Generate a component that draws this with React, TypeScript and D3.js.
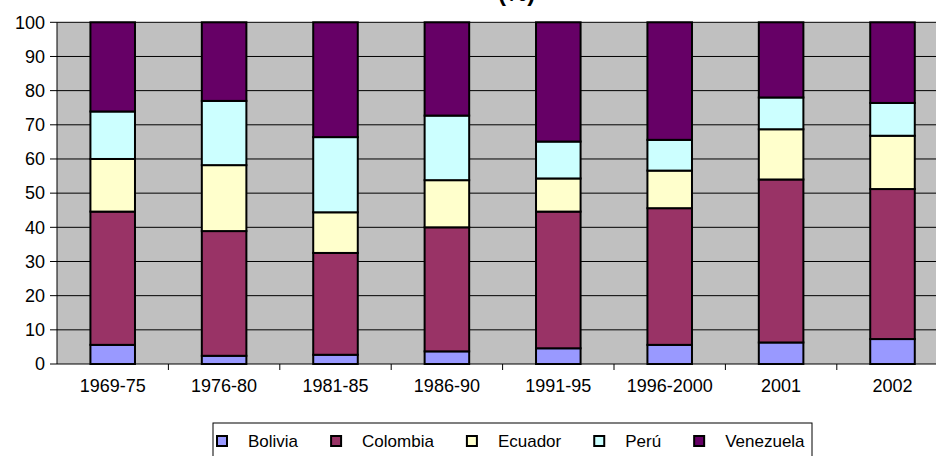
import React, { useEffect, useRef } from "react";
import * as d3 from "d3";

const categories = ["1969-75", "1976-80", "1981-85", "1986-90", "1991-95", "1996-2000", "2001", "2002"];
const seriesNames = ["Bolivia", "Colombia", "Ecuador", "Perú", "Venezuela"];
const bolivia = [5.6, 2.4, 2.7, 3.7, 4.6, 5.6, 6.3, 7.3];
const colombia = [39.0, 36.5, 29.8, 36.3, 40.0, 40.0, 47.7, 43.9];
const ecuador = [15.4, 19.3, 11.9, 13.8, 9.7, 11.0, 14.7, 15.6];
const peru = [13.9, 18.8, 22.0, 18.9, 10.8, 9.0, 9.3, 9.6];
const venezuela = [26.1, 23.0, 33.6, 27.3, 34.9, 34.4, 22.0, 23.6];
const yTicks = [0, 10, 20, 30, 40, 50, 60, 70, 80, 90, 100];
const colors = ["#9999FF", "#993366", "#FFFFCC", "#CCFFFF", "#660066"];
const titleText = "(%)";

const W = 936;
const H = 456;
const FONT = "'Liberation Sans', Arial, sans-serif";

export default function App() {
  const ref = useRef<SVGSVGElement>(null);

  useEffect(() => {
    const svg = d3.select(ref.current);
    svg.selectAll("*").remove();

    const left = 57;
    const step = 111.4;
    const right = left + step * categories.length;
    const top = 22.3;
    const bottom = 364;

    const x = d3.scaleBand<string>().domain(categories).range([left, right]).paddingInner(0.6).paddingOuter(0.3);
    const y = d3.scaleLinear().domain([0, 100]).range([bottom, top]);

    const table = categories.map((c, i) => ({
      cat: c,
      Bolivia: bolivia[i],
      Colombia: colombia[i],
      Ecuador: ecuador[i],
      "Perú": peru[i],
      Venezuela: venezuela[i],
    }));
    const stacked = d3.stack<any>().keys(seriesNames)(table);

    // plot background
    svg.append("rect").attr("x", left).attr("y", top).attr("width", right - left).attr("height", bottom - top).attr("fill", "#C0C0C0");

    // gridlines
    svg.append("g").selectAll("line").data(yTicks.filter((t) => t > 0)).join("line")
      .attr("x1", left).attr("x2", right).attr("y1", (d) => y(d)).attr("y2", (d) => y(d))
      .attr("stroke", "#000").attr("stroke-width", 1);

    // bars
    const g = svg.append("g");
    stacked.forEach((layer, si) => {
      g.append("g").selectAll("rect").data(layer).join("rect")
        .attr("x", (d: any) => x(d.data.cat)!)
        .attr("width", x.bandwidth())
        .attr("y", (d: any) => y(d[1]))
        .attr("height", (d: any) => y(d[0]) - y(d[1]))
        .attr("fill", colors[si])
        .attr("stroke", "#000")
        .attr("stroke-width", 2);
    });

    // axes lines
    svg.append("line").attr("x1", left).attr("x2", left).attr("y1", top).attr("y2", bottom).attr("stroke", "#000").attr("stroke-width", 1);
    svg.append("line").attr("x1", left).attr("x2", right).attr("y1", bottom).attr("y2", bottom).attr("stroke", "#000").attr("stroke-width", 1);

    // y ticks + labels
    const yt = svg.append("g");
    yt.selectAll("line").data(yTicks).join("line")
      .attr("x1", left - 7).attr("x2", left).attr("y1", (d) => y(d)).attr("y2", (d) => y(d))
      .attr("stroke", "#000");
    yt.selectAll("text").data(yTicks).join("text")
      .attr("x", left - 12).attr("y", (d) => y(d)).attr("dy", "0.35em")
      .attr("text-anchor", "end").attr("font-family", FONT).attr("font-size", 18).attr("fill", "#000")
      .text((d) => String(d));

    // x ticks + labels
    const bounds = categories.map((_, i) => left + x.step() * (i + 1));
    svg.append("g").selectAll("line").data(bounds).join("line")
      .attr("x1", (d) => d).attr("x2", (d) => d).attr("y1", bottom).attr("y2", bottom + 6)
      .attr("stroke", "#000");
    svg.append("g").selectAll("text").data(categories).join("text")
      .attr("x", (d) => x(d)! + x.bandwidth() / 2).attr("y", 392)
      .attr("text-anchor", "middle").attr("font-family", FONT).attr("font-size", 18).attr("fill", "#000")
      .text((d) => d);

    // title (mostly cropped at the top edge)
    svg.append("text").attr("x", 498).attr("y", 1).attr("font-family", FONT).attr("font-weight", "bold")
      .attr("font-size", 24).attr("fill", "#000").text(titleText);

    // legend
    const lg = svg.append("g");
    const legTop = 423;
    const legLeft = 213;
    const markerSize = 10;
    let cx = 217;
    seriesNames.forEach((name, i) => {
      lg.append("rect").attr("x", cx).attr("y", 436).attr("width", markerSize).attr("height", markerSize)
        .attr("fill", colors[i]).attr("stroke", "#000").attr("stroke-width", 2);
      const t = lg.append("text").attr("x", cx + markerSize / 2 + 26).attr("y", 447)
        .attr("font-family", FONT).attr("font-size", 17).attr("fill", "#000").text(name);
      const tw = (t.node() as SVGTextElement).getComputedTextLength();
      cx = cx + markerSize / 2 + 26 + tw + 38 - markerSize / 2;
    });
    const legRight = 812;
    lg.insert("rect", ":first-child").attr("x", legLeft).attr("y", legTop).attr("width", legRight - legLeft).attr("height", 45)
      .attr("fill", "#fff").attr("stroke", "#000").attr("stroke-width", 1);
  }, []);

  return (
    <svg ref={ref} width={W} height={H} style={{ position: "absolute", left: 0, top: 0, background: "#fff" }} />
  );
}
